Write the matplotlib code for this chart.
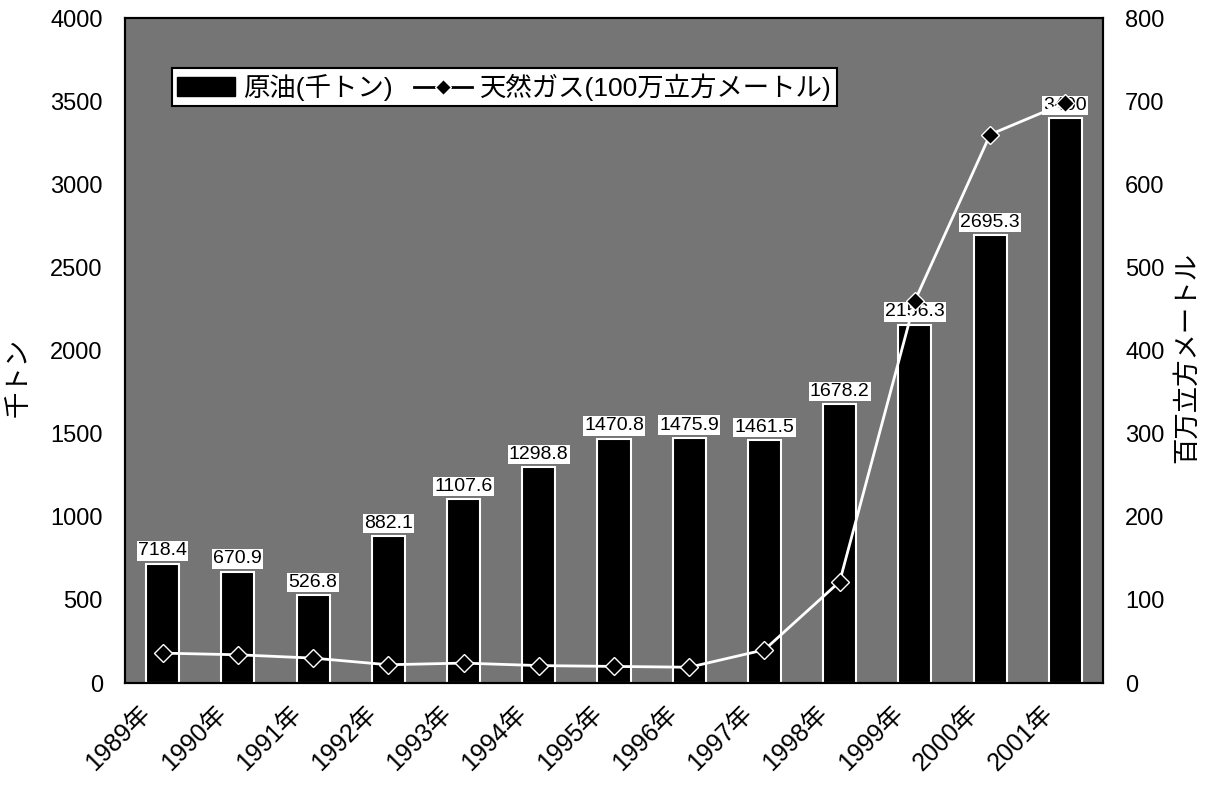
import matplotlib

matplotlib.use("Agg")
import matplotlib.pyplot as plt
from matplotlib.lines import Line2D
from matplotlib.patches import Patch
from matplotlib.transforms import offset_copy

plt.rcParams["font.family"] = ["Liberation Sans", "Noto Sans CJK JP", "DejaVu Sans"]

years = ["1989年", "1990年", "1991年", "1992年", "1993年", "1994年", "1995年",
         "1996年", "1997年", "1998年", "1999年", "2000年", "2001年"]
crude_oil = [718.4, 670.9, 526.8, 882.1, 1107.6, 1298.8, 1470.8,
             1475.9, 1461.5, 1678.2, 2156.3, 2695.3, 3400]
natural_gas = [36, 34, 30, 22, 24, 21, 20, 19, 40, 122, 460, 660, 698]

fig = plt.figure(figsize=(12.11, 7.89), dpi=100)
ax = fig.add_axes([0.1032, 0.1343, 0.8076, 0.8427])
ax.set_facecolor("#757575")
ax2 = ax.twinx()

x = list(range(len(years)))
ax.bar(x, crude_oil, width=0.44, color="black", edgecolor="white", linewidth=1.5, zorder=2)
for xi, v in zip(x, crude_oil):
    ax.annotate(f"{v:g}", (xi, v), xytext=(0, 3), textcoords="offset points",
                ha="center", va="bottom", fontsize=14, zorder=4,
                bbox=dict(boxstyle="square,pad=0.06", fc="white", ec="none"))

ax2.plot(x, natural_gas, color="white", lw=2, marker="D", markersize=9,
         markerfacecolor="black", markeredgecolor="white", markeredgewidth=1, zorder=5)

ax.set_xlim(-0.5, len(years) - 0.5)
ax.set_ylim(0, 4000)
ax2.set_ylim(0, 800)
ax.set_yticks(range(0, 4001, 500))
ax2.set_yticks(range(0, 801, 100))
ax.set_xticks(x)
ax.set_xticklabels([])
# year labels, rotated and shifted left of the category centre
lab_tr = offset_copy(ax.get_xaxis_transform(), fig=fig, x=-24, y=-18, units="dots")
for xi, yr in zip(x, years):
    ax.text(xi, 0, yr, transform=lab_tr, rotation=45, rotation_mode="anchor",
            ha="right", va="top", fontsize=18)
ax.tick_params(axis="x", length=0)
ax.tick_params(axis="y", length=0, labelsize=17, pad=16)
ax2.tick_params(axis="y", length=0, labelsize=17, pad=16)
for a in (ax, ax2):
    for s in a.spines.values():
        s.set_color("black")
        s.set_linewidth(1.5)

ax.set_ylabel("千トン", fontsize=19)
ax.yaxis.set_label_coords(-0.096, 0.46)
ax2.set_ylabel("百万立方メートル", fontsize=19)
ax2.yaxis.set_label_coords(1.073, 0.489)

handles = [
    Patch(facecolor="black", edgecolor="black"),
    Line2D([0], [0], color="black", lw=2, marker="D", markersize=8,
           markerfacecolor="black", markeredgecolor="white"),
]
leg = ax2.legend(handles, ["原油(千トン)", "天然ガス(100万立方メートル)"], ncol=2,
                 loc="upper left", bbox_to_anchor=(0.048, 0.925), borderaxespad=0,
                 fontsize=19, frameon=True, fancybox=False, edgecolor="black",
                 framealpha=1, borderpad=0.2, handlelength=2.2, handletextpad=0.3,
                 columnspacing=0.8)
leg.get_frame().set_linewidth(1.5)

fig.savefig("out.png", dpi=100)
